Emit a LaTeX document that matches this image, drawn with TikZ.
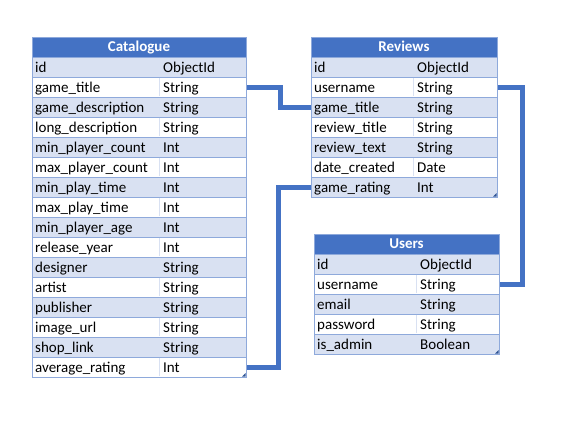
\documentclass[tikz,border=0pt]{standalone}
\usepackage{fontspec}
\setmainfont{Carlito}
\usetikzlibrary{calc}
\definecolor{hdrblue}{HTML}{4472C4}
\definecolor{rowblue}{HTML}{D9E1F2}
\definecolor{gridblue}{HTML}{8EA9DB}
\definecolor{handleblue}{HTML}{2F5597}
\tikzset{
 cellbox/.style={draw=gridblue, line width=1pt, minimum height=20pt, inner sep=0pt, anchor=north west},
 hdrbox/.style={cellbox, fill=hdrblue},
 celltext/.style={inner sep=0pt, anchor=base west, font=\fontsize{15}{18}\selectfont},
 hdrtext/.style={inner sep=0pt, anchor=base, text=white, font=\fontsize{15}{18}\selectfont\bfseries},
 conn/.style={draw=hdrblue, line width=4.5pt},
 handle/.style={fill=handleblue},
 divline/.style={draw=rowblue, line width=1pt},
}
\newcommand\dbtable[7]{%
 \node[hdrbox, minimum width={(#5-#3)*1pt}] (#1h) at (#3,-#6) {};
 \node[hdrtext] (#1ht) at ({(#3+#5)/2}, {-#6-14.5}) {#2};
 \foreach \n/\t [count=\i] in {#7} {
   \pgfmathtruncatemacro\odd{mod(\i,2)}
   \ifnum\odd=1 \def\rf{rowblue}\else\def\rf{white}\fi
   \node[cellbox, fill=\rf, minimum width={(#5-#3)*1pt}] (#1\i) at (#3, {-#6-20*\i}) {};
   \draw[divline] (#4, {-#6-20*\i-0.6}) -- (#4, {-#6-20*\i-19.4});
   \node[celltext] (#1\i-n) at ({#3+3}, {-#6-20*\i-15}) {\n};
   \node[celltext] (#1\i-t) at ({#4+4}, {-#6-20*\i-15}) {\t};
   \xdef\lastrow{\i}
 }
 \fill[handle] ($(#1\lastrow.south east)+(-1.5,1.5)$) -- ++(-3.5,0) -- ++(3.5,3.5) -- cycle;
}
\begin{document}
\begin{tikzpicture}[x=1pt,y=1pt]
\useasboundingbox (0,0) rectangle (564,-434);
\fill[white] (0,0) rectangle (564,-434);
\dbtable{cat}{Catalogue}{32}{159}{246}{37}{id/ObjectId, game\_title/String, game\_description/String, long\_description/String, min\_player\_count/Int, max\_player\_count/Int, min\_play\_time/Int, max\_play\_time/Int, min\_player\_age/Int, release\_year/Int, designer/String, artist/String, publisher/String, image\_url/String, shop\_link/String, average\_rating/Int}
\dbtable{rev}{Reviews}{311}{413}{497}{37}{id/ObjectId, username/String, game\_title/String, review\_title/String, review\_text/String, date\_created/Date, game\_rating/Int}
\dbtable{usr}{Users}{314}{416}{499}{234}{id/ObjectId, username/String, email/String, password/String, is\_admin/Boolean}
\draw[conn] (cat2.east) -- ++(33.5,0) |- (rev3.west);
\draw[conn] (cat16.east) -- ++(31.5,0) |- (rev7.west);
\draw[conn] (rev2.east) -- ++(24.5,0) |- (usr2.east);
\end{tikzpicture}
\end{document}
